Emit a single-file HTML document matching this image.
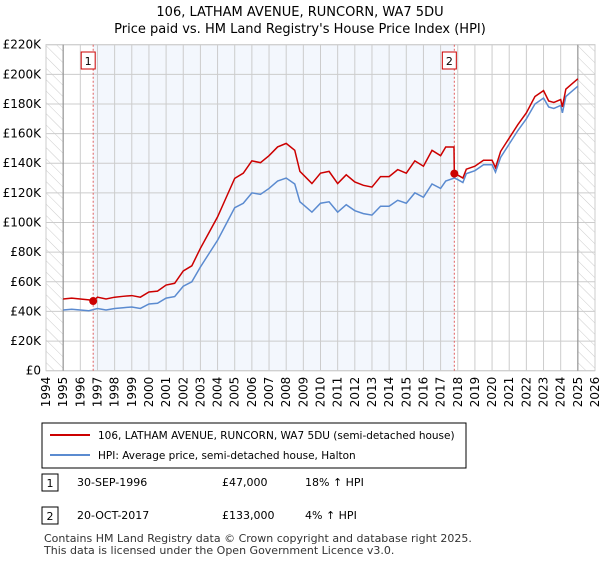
<!DOCTYPE html>
<html><head><meta charset="utf-8"><style>
body{margin:0;background:#fff;font-family:"Liberation Sans","DejaVu Sans",sans-serif;}
svg text{font-family:"DejaVu Sans","Liberation Sans",sans-serif;}
</style></head><body>
<svg id="c" width="600" height="560" viewBox="0 0 600 560" xmlns="http://www.w3.org/2000/svg">
<defs><pattern id="hatch" width="8" height="8" patternUnits="userSpaceOnUse" patternTransform="rotate(-45)"><line x1="0" y1="0" x2="0" y2="8" stroke="#ccc" stroke-width="1"/></pattern></defs>
<text x="300" y="16" text-anchor="middle" font-size="13">106, LATHAM AVENUE, RUNCORN, WA7 5DU</text>
<text x="300" y="33" text-anchor="middle" font-size="13">Price paid vs. HM Land Registry's House Price Index (HPI)</text>
<g id="plot"></g>
<rect x="42" y="423" width="424" height="45" fill="#fff" stroke="#000"/>
<line x1="50" y1="435" x2="90" y2="435" stroke="#cc0000" stroke-width="2"/>
<text x="98" y="439" font-size="10.5">106, LATHAM AVENUE, RUNCORN, WA7 5DU (semi-detached house)</text>
<line x1="50" y1="455" x2="90" y2="455" stroke="#5b8bd0" stroke-width="2"/>
<text x="98" y="459" font-size="10.5">HPI: Average price, semi-detached house, Halton</text>
<rect x="42" y="474" width="16" height="17" fill="#fff" stroke="#000"/><text x="50" y="487" text-anchor="middle" font-size="11">1</text>
<text font-size="11"><tspan x="77" y="486">30-SEP-1996</tspan><tspan x="222" y="486">£47,000</tspan><tspan x="305" y="486">18% ↑ HPI</tspan></text>
<rect x="42" y="507" width="16" height="17" fill="#fff" stroke="#000"/><text x="50" y="520" text-anchor="middle" font-size="11">2</text>
<text font-size="11"><tspan x="77" y="519">20-OCT-2017</tspan><tspan x="222" y="519">£133,000</tspan><tspan x="305" y="519">4% ↑ HPI</tspan></text>
<text font-size="11" fill="#333"><tspan x="44" y="542">Contains HM Land Registry data © Crown copyright and database right 2025.</tspan><tspan x="44" y="554">This data is licensed under the Open Government Licence v3.0.</tspan></text>
</svg>
<script>
const hpiYears=[1995,1995.5,1996,1996.5,1997,1997.5,1998,1998.5,1999,1999.5,2000,2000.5,2001,2001.5,2002,2002.5,2003,2003.5,2004,2004.5,2005,2005.5,2006,2006.5,2007,2007.5,2008,2008.5,2008.8,2009,2009.5,2010,2010.5,2011,2011.5,2012,2012.5,2013,2013.5,2014,2014.5,2015,2015.5,2016,2016.5,2017,2017.3,2017.8,2018,2018.3,2018.5,2019,2019.5,2020,2020.2,2020.5,2021,2021.5,2022,2022.5,2023,2023.3,2023.6,2024,2024.1,2024.3,2024.6,2025];
const hpiValues=[41,41.5,41,40.5,42,41,42,42.5,43,42,45,45.5,49,50,57,60,70,79,88,99,110,113,120,119,123,128,130,126,114,112,107,113,114,107,112,108,106,105,111,111,115,113,120,117,126,123,128,130,129,127,133,135,139,139,134,144,153,162,170,180,184,178,177,179,174,185,188,192];
const priceYears=[1995,1995.5,1996,1996.5,1996.75,1997,1997.5,1998,1998.5,1999,1999.5,2000,2000.5,2001,2001.5,2002,2002.5,2003,2003.5,2004,2004.5,2005,2005.5,2006,2006.5,2007,2007.5,2008,2008.5,2008.8,2009,2009.5,2010,2010.5,2011,2011.5,2012,2012.5,2013,2013.5,2014,2014.5,2015,2015.5,2016,2016.5,2017,2017.3,2017.78,2017.8,2018,2018.3,2018.5,2019,2019.5,2020,2020.2,2020.5,2021,2021.5,2022,2022.5,2023,2023.3,2023.6,2024,2024.1,2024.3,2024.6,2025];
const priceValues=[48.4,49,48.4,47.8,47,49.6,48.4,49.6,50.2,50.7,49.6,53.1,53.7,57.8,59,67.3,70.8,82.6,93.2,103.8,116.8,129.8,133.3,141.6,140.4,145.1,151,153.4,148.7,134.5,132.2,126.3,133.3,134.5,126.3,132.2,127.4,125.1,123.9,131,131,135.7,133.3,141.6,138,148.7,145.1,151,151,133,132,130,136,138,142,142,137,148,157,166,174,185,189,182,181,183,178,190,193,197];
const yTicks=[0,20,40,60,80,100,120,140,160,180,200,220];
const yTickLabels=["£0","£20K","£40K","£60K","£80K","£100K","£120K","£140K","£160K","£180K","£200K","£220K"];
const xTicks=[1994,1995,1996,1997,1998,1999,2000,2001,2002,2003,2004,2005,2006,2007,2008,2009,2010,2011,2012,2013,2014,2015,2016,2017,2018,2019,2020,2021,2022,2023,2024,2025,2026];
const sales=[[1996.75,47,"1"],[2017.8,133,"2"]];
const X0=46,X1=595,Y0=370.7,Y1=44.7;
const xs=y=>X0+(y-1994)/(2026-1994)*(X1-X0);
const ys=v=>Y0-v/220*(Y0-Y1);
const NS="http://www.w3.org/2000/svg";
const g=document.getElementById('plot');
function mk(t,a,p){const e=document.createElementNS(NS,t);for(const k in a)e.setAttribute(k,a[k]);(p||g).appendChild(e);return e;}
let r=mk('rect',{x:xs(sales[0][0]),y:Y1,width:xs(sales[1][0])-xs(sales[0][0]),height:Y0-Y1,fill:'#eef3fc',opacity:0.7});

let h1=mk('rect',{x:X0,y:Y1,width:xs(1995)-X0,height:Y0-Y1,fill:'url(#hatch)'});

let h2=mk('rect',{x:xs(2025),y:Y1,width:X1-xs(2025),height:Y0-Y1,fill:'url(#hatch)'});

yTicks.forEach((v,i)=>{mk('line',{x1:X0,x2:X1,y1:ys(v),y2:ys(v),stroke:'#ccc'});
const t=mk('text',{x:X0-5,y:ys(v)+4,'text-anchor':'end','font-size':12});t.textContent=yTickLabels[i];
});
xTicks.forEach(y=>{mk('line',{x1:xs(y),x2:xs(y),y1:Y1,y2:Y0,stroke:'#ccc'});
const t=mk('text',{x:0,y:0,'font-size':12,'text-anchor':'end',transform:`translate(${xs(y)+4},${Y0+6}) rotate(-90)`});t.textContent=y;
});
mk('rect',{x:X0,y:Y1,width:X1-X0,height:Y0-Y1,fill:'none',stroke:'#ccc'});
mk('line',{x1:xs(1995),x2:xs(1995),y1:Y1,y2:Y0,stroke:'#888'});
mk('line',{x1:xs(2025),x2:xs(2025),y1:Y1,y2:Y0,stroke:'#888'});
sales.forEach(s=>{mk('line',{x1:xs(s[0]),x2:xs(s[0]),y1:Y1,y2:Y0,stroke:'#e06060','stroke-dasharray':'2,2'});});
let hp=mk('polyline',{points:hpiYears.map((y,i)=>xs(y)+','+ys(hpiValues[i])).join(' '),fill:'none',stroke:'#5b8bd0','stroke-width':1.5});

let pp=mk('polyline',{points:priceYears.map((y,i)=>xs(y)+','+ys(priceValues[i])).join(' '),fill:'none',stroke:'#cc0000','stroke-width':1.5});

sales.forEach(s=>{let c=mk('circle',{cx:xs(s[0]),cy:ys(s[1]),r:4,fill:'#cc0000'});

mk('rect',{x:xs(s[0])-12,y:52,width:14,height:17,fill:'#fff',stroke:'#cc0000'});
const t=mk('text',{x:xs(s[0])-5,y:65,'text-anchor':'middle','font-size':11});t.textContent=s[2];
});
</script>
</body></html>
